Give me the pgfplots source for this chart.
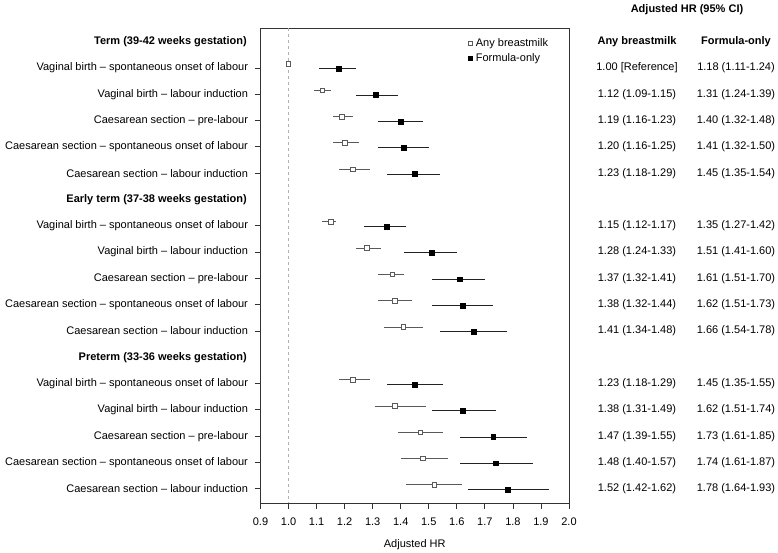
\documentclass[border=0pt]{standalone}
\usepackage{pgfplots}
\pgfplotsset{compat=1.18}
\usepackage{pgfplotstable}
\usepackage{fontspec}
\setmainfont{Liberation Sans}
\newcommand\f{\fontsize{11}{13}\selectfont}
\definecolor{bmcol}{HTML}{5A5A5A}
\definecolor{focol}{HTML}{222222}

% Any breastmilk: row, HR, lower, upper
\pgfplotstableread{
row hr lo hi
2 1.00 1.00 1.00
3 1.12 1.09 1.15
4 1.19 1.16 1.23
5 1.20 1.16 1.25
6 1.23 1.18 1.29
8 1.15 1.12 1.17
9 1.28 1.24 1.33
10 1.37 1.32 1.41
11 1.38 1.32 1.44
12 1.41 1.34 1.48
14 1.23 1.18 1.29
15 1.38 1.31 1.49
16 1.47 1.39 1.55
17 1.48 1.40 1.57
18 1.52 1.42 1.62
}\bmtab

% Formula-only
\pgfplotstableread{
row hr lo hi
2 1.18 1.11 1.24
3 1.31 1.24 1.39
4 1.40 1.32 1.48
5 1.41 1.32 1.50
6 1.45 1.35 1.54
8 1.35 1.27 1.42
9 1.51 1.41 1.60
10 1.61 1.51 1.70
11 1.62 1.51 1.73
12 1.66 1.54 1.78
14 1.45 1.35 1.55
15 1.62 1.51 1.74
16 1.73 1.61 1.85
17 1.74 1.61 1.87
18 1.78 1.64 1.93
}\fotab

\begin{document}
\begin{tikzpicture}[x=1pt,y=1pt]
\useasboundingbox (0,0) rectangle (778,553);
\begin{axis}[
  at={(260.5pt,50pt)}, anchor=south west,
  scale only axis, width=308.5pt, height=475pt,
  xmin=0.9, xmax=2.0, ymin=0.48, ymax=18.54, y dir=reverse,
  xtick={0.9,1,1.1,1.2,1.3,1.4,1.5,1.6,1.7,1.8,1.9,2},
  xticklabel style={yshift=-5pt, /pgf/number format/.cd, fixed, fixed zerofill, precision=1},
  /pgf/number format/assume math mode=true,
  xtick pos=bottom, ytick pos=left,
  tick align=outside, major tick length=6pt,
  tick style={black!80, line width=0.8pt},
  axis line style={black!80, line width=0.8pt},
  ytick={2,3,4,5,6,8,9,10,11,12,14,15,16,17,18},
  yticklabels={
    Vaginal birth – spontaneous onset of labour,
    Vaginal birth – labour induction,
    Caesarean section – pre-labour\hspace{3pt},
    Caesarean section – spontaneous onset of labour,
    Caesarean section – labour induction,
    Vaginal birth – spontaneous onset of labour,
    Vaginal birth – labour induction,
    Caesarean section – pre-labour\hspace{3pt},
    Caesarean section – spontaneous onset of labour,
    Caesarean section – labour induction,
    Vaginal birth – spontaneous onset of labour,
    Vaginal birth – labour induction,
    Caesarean section – pre-labour\hspace{3pt},
    Caesarean section – spontaneous onset of labour,
    Caesarean section – labour induction},
  ticklabel style={font=\f},
  yticklabel style={xshift=-3pt},
  xlabel={Adjusted HR}, xlabel style={font=\f, yshift=-7pt},
  clip=false,
  legend style={draw=none, fill=none, at={(rel axis cs:0.67,0.985)}, anchor=north west,
    font=\f, row sep=2pt, inner sep=1pt},
  legend cell align=left,
]
\draw[black!30, dashed, line width=0.6pt] (axis cs:1,0.48) -- (axis cs:1,18.54);

\addplot[forget plot, only marks, mark=square*, mark size=2.3pt,
  mark options={draw=bmcol, fill=white, line width=0.8pt},
  error bars/.cd, x dir=both, x explicit, error mark=none,
  error bar style={bmcol, line width=0.9pt}]
  table[x=hr, y expr=\thisrow{row}-0.15,
        x error plus expr=\thisrow{hi}-\thisrow{hr},
        x error minus expr=\thisrow{hr}-\thisrow{lo}] {\bmtab};

\addplot[forget plot, only marks, mark=square*, mark size=2.4pt,
  mark options={draw=black, fill=black},
  error bars/.cd, x dir=both, x explicit, error mark=none,
  error bar style={focol, line width=0.9pt}]
  table[x=hr, y expr=\thisrow{row}+0.03,
        x error plus expr=\thisrow{hi}-\thisrow{hr},
        x error minus expr=\thisrow{hr}-\thisrow{lo}] {\fotab};

\addlegendimage{only marks, mark=square*, mark size=2pt, mark options={draw=bmcol, fill=white, line width=0.7pt}}
\addlegendentry{\hspace{1.5pt}Any breastmilk}
\addlegendimage{only marks, mark=square*, mark size=2pt, mark options={draw=black, fill=black}}
\addlegendentry{\hspace{1.5pt}Formula-only}
\end{axis}

% group headers
\foreach \k/\t in {1/{Term (39-42 weeks gestation)}, 7/{Early term (37-38 weeks gestation)}, 13/{Preterm (33-36 weeks gestation)}}
  \node[anchor=east, font=\f\bfseries, inner sep=0pt] at (247, {511.3-(\k-1)*26.3}) {\t};

% right columns
\node[font=\f\bfseries] at (687, 543) {Adjusted HR (95\% CI)};
\node[font=\f\bfseries] at (637, 511.3) {Any breastmilk};
\node[font=\f\bfseries] at (736, 511.3) {Formula-only};
\foreach \k/\a/\b in {
  2/{1.00 [Reference]}/{1.18 (1.11-1.24)},
  3/{1.12 (1.09-1.15)}/{1.31 (1.24-1.39)},
  4/{1.19 (1.16-1.23)}/{1.40 (1.32-1.48)},
  5/{1.20 (1.16-1.25)}/{1.41 (1.32-1.50)},
  6/{1.23 (1.18-1.29)}/{1.45 (1.35-1.54)},
  8/{1.15 (1.12-1.17)}/{1.35 (1.27-1.42)},
  9/{1.28 (1.24-1.33)}/{1.51 (1.41-1.60)},
  10/{1.37 (1.32-1.41)}/{1.61 (1.51-1.70)},
  11/{1.38 (1.32-1.44)}/{1.62 (1.51-1.73)},
  12/{1.41 (1.34-1.48)}/{1.66 (1.54-1.78)},
  14/{1.23 (1.18-1.29)}/{1.45 (1.35-1.55)},
  15/{1.38 (1.31-1.49)}/{1.62 (1.51-1.74)},
  16/{1.47 (1.39-1.55)}/{1.73 (1.61-1.85)},
  17/{1.48 (1.40-1.57)}/{1.74 (1.61-1.87)},
  18/{1.52 (1.42-1.62)}/{1.78 (1.64-1.93)}}
{
  \node[font=\f] at (637, {511.3-(\k-1)*26.3}) {\a};
  \node[font=\f] at (736, {511.3-(\k-1)*26.3}) {\b};
}
\end{tikzpicture}
\end{document}
